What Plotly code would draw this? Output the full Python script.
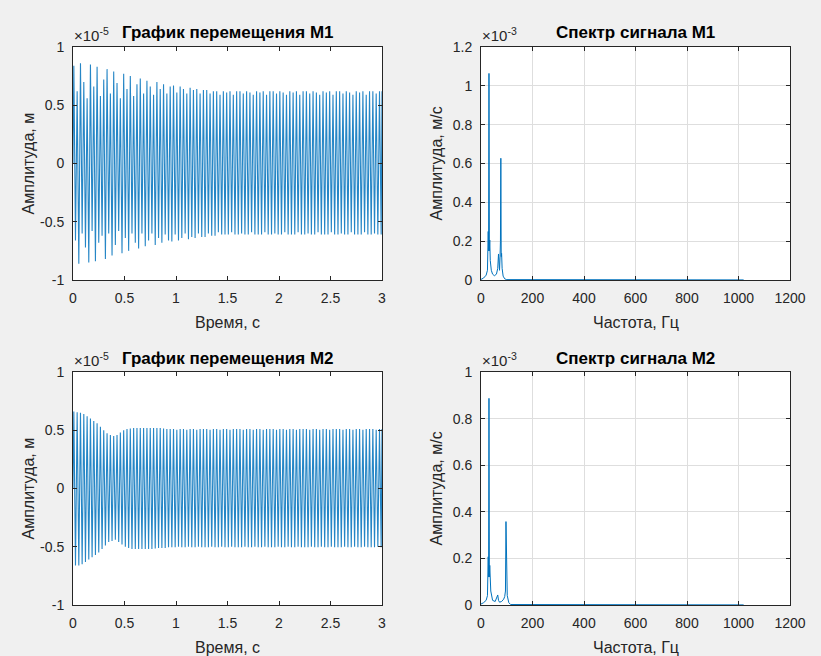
import plotly.graph_objects as go

# ---------------- data ----------------
# dominant oscillation frequency of both displacement signals (Hz)
cycle_hz = 31.0
t_end = 3.0

# per-cycle maxima / minima of displacement M1 (units of 1e-5 m)
m1_max = [
    0.84, 0.62, 0.86, 0.70, 0.56, 0.85, 0.66, 0.83, 0.58, 0.72,
    0.81, 0.60, 0.79, 0.69, 0.56, 0.77, 0.64, 0.75, 0.58, 0.68,
    0.73, 0.60, 0.71, 0.66, 0.59, 0.70, 0.64, 0.68, 0.60, 0.66,
    0.67, 0.61, 0.66, 0.64, 0.60, 0.65, 0.63, 0.64, 0.60, 0.63,
    0.63, 0.60, 0.62, 0.62, 0.59, 0.62, 0.61, 0.62, 0.59, 0.62,
    0.62, 0.60, 0.62, 0.61, 0.59, 0.62, 0.61, 0.62, 0.59, 0.62,
    0.62, 0.60, 0.62, 0.61, 0.59, 0.62, 0.61, 0.62, 0.59, 0.62,
    0.62, 0.60, 0.62, 0.61, 0.59, 0.62, 0.61, 0.62, 0.59, 0.62,
    0.62, 0.60, 0.62, 0.61, 0.59, 0.62, 0.61, 0.62, 0.59, 0.62,
    0.62, 0.60, 0.62,
]
m1_min = [
    -0.66, -0.86, -0.60, -0.72, -0.85, -0.58, -0.84, -0.68, -0.62, -0.82,
    -0.60, -0.79, -0.70, -0.58, -0.77, -0.64, -0.75, -0.60, -0.68, -0.73,
    -0.60, -0.71, -0.66, -0.60, -0.70, -0.64, -0.68, -0.61, -0.66, -0.67,
    -0.61, -0.66, -0.64, -0.60, -0.65, -0.63, -0.64, -0.60, -0.63, -0.63,
    -0.60, -0.62, -0.62, -0.59, -0.61, -0.61, -0.61, -0.59, -0.61, -0.61,
    -0.60, -0.61, -0.61, -0.59, -0.61, -0.61, -0.61, -0.59, -0.61, -0.61,
    -0.60, -0.61, -0.61, -0.59, -0.61, -0.61, -0.61, -0.59, -0.61, -0.61,
    -0.60, -0.61, -0.61, -0.59, -0.61, -0.61, -0.61, -0.59, -0.61, -0.61,
    -0.60, -0.61, -0.61, -0.59, -0.61, -0.61, -0.61, -0.59, -0.61, -0.61,
    -0.60, -0.61, -0.61,
]

# per-cycle maxima / minima of displacement M2 (units of 1e-5 m)
m2_max = [
    0.66, 0.655, 0.65, 0.64, 0.62, 0.60, 0.58, 0.56, 0.53, 0.50,
    0.475, 0.46, 0.45, 0.46, 0.48, 0.50, 0.51, 0.515, 0.52, 0.52,
    0.52, 0.52, 0.52, 0.52, 0.52, 0.52, 0.52, 0.515, 0.51, 0.51,
    0.51, 0.505, 0.51, 0.51, 0.505, 0.51, 0.51, 0.505, 0.51, 0.51,
    0.51, 0.505, 0.51, 0.51, 0.505, 0.51, 0.51, 0.505, 0.51, 0.51,
    0.51, 0.505, 0.51, 0.51, 0.505, 0.51, 0.51, 0.505, 0.51, 0.51,
    0.51, 0.505, 0.51, 0.51, 0.505, 0.51, 0.51, 0.505, 0.51, 0.51,
    0.51, 0.505, 0.51, 0.51, 0.505, 0.51, 0.51, 0.505, 0.51, 0.51,
    0.51, 0.505, 0.51, 0.51, 0.505, 0.51, 0.51, 0.505, 0.51, 0.51,
    0.51, 0.505, 0.51,
]
m2_min = [
    -0.66, -0.66, -0.65, -0.63, -0.61, -0.59, -0.57, -0.55, -0.52, -0.49,
    -0.46, -0.45, -0.44, -0.46, -0.48, -0.50, -0.51, -0.52, -0.52, -0.52,
    -0.52, -0.52, -0.52, -0.52, -0.515, -0.51, -0.51, -0.51, -0.505, -0.505,
    -0.505, -0.50, -0.505, -0.505, -0.50, -0.505, -0.505, -0.50, -0.505, -0.505,
    -0.505, -0.50, -0.505, -0.505, -0.50, -0.505, -0.505, -0.50, -0.505, -0.505,
    -0.505, -0.50, -0.505, -0.505, -0.50, -0.505, -0.505, -0.50, -0.505, -0.505,
    -0.505, -0.50, -0.505, -0.505, -0.50, -0.505, -0.505, -0.50, -0.505, -0.505,
    -0.505, -0.50, -0.505, -0.505, -0.50, -0.505, -0.505, -0.50, -0.505, -0.505,
    -0.505, -0.50, -0.505, -0.505, -0.50, -0.505, -0.505, -0.50, -0.505, -0.505,
    -0.505, -0.50, -0.505,
]

# spectrum M1 (Hz, units of 1e-3 m/s)
s1_freq = [0, 10, 20, 25, 28, 29.5, 31, 32.5, 34, 36, 40, 45, 52, 60, 65, 68,
           70, 72, 74, 75.5, 77, 78.5, 80, 82, 86, 92, 100, 1020]
s1_amp = [0.003, 0.01, 0.025, 0.05, 0.25, 0.15, 1.064, 0.15, 0.206, 0.10, 0.05,
          0.03, 0.022, 0.03, 0.06, 0.134, 0.07, 0.05, 0.12, 0.20, 0.627, 0.12,
          0.137, 0.06, 0.02, 0.006, 0.002, 0.0005]

# spectrum M2 (Hz, units of 1e-3 m/s)
s2_freq = [0, 10, 20, 25, 28, 29.5, 31, 32.5, 34, 38, 45, 55, 62, 65, 68, 72,
           80, 88, 92, 95, 97, 99, 102, 108, 115, 1020]
s2_amp = [0.004, 0.01, 0.02, 0.04, 0.207, 0.12, 0.887, 0.12, 0.17, 0.06, 0.02,
          0.015, 0.03, 0.043, 0.02, 0.012, 0.015, 0.025, 0.036, 0.06, 0.358,
          0.06, 0.04, 0.01, 0.002, 0.0005]

# tick labels
time_ticks = [0, 0.5, 1, 1.5, 2, 2.5, 3]
disp_ticks = [-1, -0.5, 0, 0.5, 1]
freq_ticks = [0, 200, 400, 600, 800, 1000, 1200]
spec1_ticks = [0, 0.2, 0.4, 0.6, 0.8, 1, 1.2]
spec2_ticks = [0, 0.2, 0.4, 0.6, 0.8, 1]

titles = ["График перемещения M1", "Спектр сигнала M1",
          "График перемещения M2", "Спектр сигнала M2"]
xlabels = ["Время, с", "Частота, Гц", "Время, с", "Частота, Гц"]
ylabels = ["Амплитуда, м", "Амплитуда, м/с", "Амплитуда, м", "Амплитуда, м/с"]
exps = ["-5", "-3", "-5", "-3"]


def zigzag(maxima, minima):
    xs, ys = [0.0], [0.0]
    for k, (hi, lo) in enumerate(zip(maxima, minima)):
        xs += [(k + 0.25) / cycle_hz, (k + 0.75) / cycle_hz]
        ys += [hi, lo]
    xs.append(t_end)
    ys.append(ys[-2])
    return xs, ys


def lbl(v):
    return "%g" % v


W, H = 821, 656
BLUE = "#0072bd"
AX = "#262626"
FONT = "Liberation Sans, Arial, sans-serif"

fig = go.Figure()

x1, y1 = zigzag(m1_max, m1_min)
x2, y2 = zigzag(m2_max, m2_min)
fig.add_trace(go.Scatter(x=x1, y=y1, mode="lines", line=dict(color=BLUE, width=1.1),
                         opacity=0.85, xaxis="x", yaxis="y", showlegend=False, hoverinfo="skip"))
fig.add_trace(go.Scatter(x=s1_freq, y=s1_amp, mode="lines", line=dict(color=BLUE, width=1),
                         xaxis="x2", yaxis="y2", showlegend=False))
fig.add_trace(go.Scatter(x=x2, y=y2, mode="lines", line=dict(color=BLUE, width=1.1),
                         opacity=0.85, xaxis="x3", yaxis="y3", showlegend=False, hoverinfo="skip"))
fig.add_trace(go.Scatter(x=s2_freq, y=s2_amp, mode="lines", line=dict(color=BLUE, width=1),
                         xaxis="x4", yaxis="y4", showlegend=False))

# pixel boxes of the four axes: (left, right, top, bottom)
boxes = [(73, 382, 47, 280), (481, 790, 47, 280), (73, 382, 372, 605), (481, 790, 372, 605)]


def axis_common(grid):
    return dict(showline=True, linecolor=AX, linewidth=1, mirror="ticks",
                ticks="inside", ticklen=4, tickcolor=AX, tickwidth=1,
                tickfont=dict(family=FONT, size=14, color=AX),
                zeroline=False, showgrid=grid, gridcolor="#dedede", gridwidth=1,
                fixedrange=True, automargin=False)


specs = [
    (time_ticks, [0, 3], disp_ticks, [-1, 1], False),
    (freq_ticks, [0, 1200], spec1_ticks, [0, 1.2], True),
    (time_ticks, [0, 3], disp_ticks, [-1, 1], False),
    (freq_ticks, [0, 1200], spec2_ticks, [0, 1], True),
]

layout = dict(width=W, height=H, paper_bgcolor="#f0f0f0", plot_bgcolor="#ffffff",
              margin=dict(l=0, r=0, t=0, b=0, autoexpand=False), showlegend=False,
              autosize=False)
for i, ((l, r, t, b), (xt, xr, yt, yr, grid)) in enumerate(zip(boxes, specs)):
    n = "" if i == 0 else str(i + 1)
    xa = axis_common(grid)
    xa.update(domain=[l / W, r / W], range=xr, tickvals=xt, ticktext=[lbl(v) for v in xt],
              anchor="y" + n, ticklabelstandoff=5)
    ya = axis_common(grid)
    ya.update(domain=[1 - b / H, 1 - t / H], range=yr, tickvals=yt,
              ticktext=[lbl(v) for v in yt], anchor="x" + n, ticklabelstandoff=5)
    layout["xaxis" + n] = xa
    layout["yaxis" + n] = ya
fig.update_layout(**layout)

ann = []
for i, (l, r, t, b) in enumerate(boxes):
    cx = (l + r) / 2
    cy = (t + b) / 2
    ann.append(dict(x=cx / W, y=1 - (t - 14) / H, xref="paper", yref="paper",
                    text="<b>" + titles[i] + "</b>", showarrow=False,
                    xanchor="center", yanchor="middle",
                    font=dict(family=FONT, size=17, color="#000000")))
    ann.append(dict(x=cx / W, y=1 - (b + 42) / H, xref="paper", yref="paper",
                    text=xlabels[i], showarrow=False, xanchor="center", yanchor="middle",
                    font=dict(family=FONT, size=16, color=AX)))
    ann.append(dict(x=(l - 45) / W, y=1 - cy / H, xref="paper", yref="paper",
                    text=ylabels[i], showarrow=False, xanchor="center", yanchor="middle",
                    textangle=-90, font=dict(family=FONT, size=16, color=AX)))
    ann.append(dict(x=(l - 1) / W, y=1 - (t - 1) / H, xref="paper", yref="paper",
                    text="×10<sup>" + exps[i] + "</sup>", showarrow=False,
                    xanchor="left", yanchor="bottom",
                    font=dict(family=FONT, size=15, color=AX)))
fig.update_layout(annotations=ann)

fig.write_html("out.html", config={"displayModeBar": False})

# remove the browser's default page margin so the figure fills the window exactly
with open("out.html", "r", encoding="utf-8") as fh:
    html = fh.read()
html = html.replace("<head>", "<head><style>html,body{margin:0;padding:0;overflow:hidden;}</style>", 1)
with open("out.html", "w", encoding="utf-8") as fh:
    fh.write(html)
